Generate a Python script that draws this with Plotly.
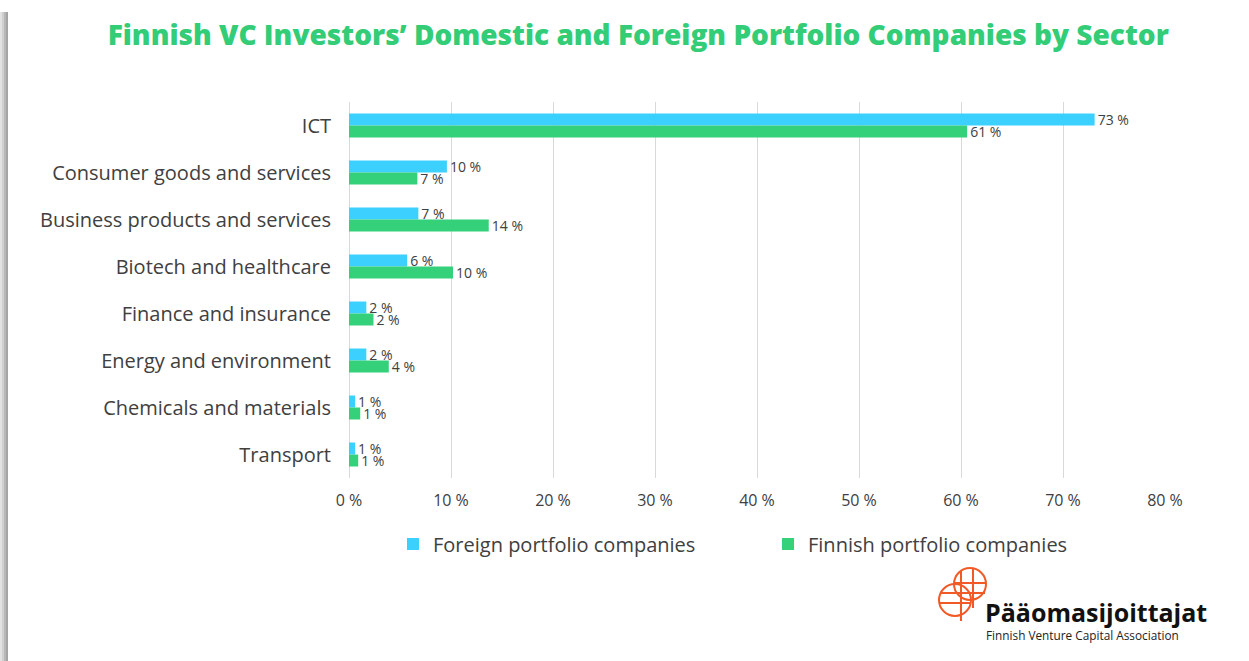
import plotly.graph_objects as go

categories = ["ICT", "Consumer goods and services", "Business products and services",
              "Biotech and healthcare", "Finance and insurance", "Energy and environment",
              "Chemicals and materials", "Transport"]
foreign = [73.1, 9.6, 6.8, 5.7, 1.7, 1.7, 0.6, 0.6]
finnish = [60.6, 6.7, 13.7, 10.2, 2.4, 3.9, 1.1, 0.9]
series_names = ["Foreign portfolio companies", "Finnish portfolio companies"]
x_ticks = [0, 10, 20, 30, 40, 50, 60, 70, 80]
x_tick_labels = [f"{v} %" for v in x_ticks]

W, H = 1249, 661
ML, MR, MT, MB = 349, 84, 102, 183
PW, PH = W - ML - MR, H - MT - MB

def px(x):
    return (x - ML) / PW

def py(y):
    return (H - MB - y) / PH

CYAN = "#3CD0FF"
GREEN = "#35D07A"
TXT = "#404040"
FONT = "Open Sans"

fig = go.Figure()
for name, vals, col in [(series_names[0], foreign, CYAN), (series_names[1], finnish, GREEN)]:
    fig.add_trace(go.Bar(
        y=categories, x=vals, name=name, orientation="h",
        marker=dict(color=col, line=dict(width=0)),
        text=[f"{round(v)} %" for v in vals],
        textposition="outside", constraintext="none", cliponaxis=False,
        textfont=dict(family=FONT, size=14, color=TXT),
        hoverinfo="x+y",
    ))

fig.update_layout(
    width=W, height=H,
    margin=dict(l=ML, r=MR, t=MT, b=MB),
    paper_bgcolor="white", plot_bgcolor="white",
    barmode="group", bargap=0.49, bargroupgap=0,
    font=dict(family=FONT, color=TXT),
    title=dict(text="Finnish VC Investors’ Domestic and Foreign Portfolio Companies by Sector",
               x=0.511, xanchor="center", y=1 - 35 / H, yanchor="middle",
               font=dict(family=FONT, size=28, color="#33CC77", weight=800)),
    xaxis=dict(range=[0, 80], tickmode="array", tickvals=x_ticks, ticktext=x_tick_labels,
               showgrid=True, gridcolor="#D9D9D9", gridwidth=1,
               zeroline=True, zerolinecolor="#D9D9D9", zerolinewidth=1,
               showline=False, ticks="", tickfont=dict(family=FONT, size=16, color=TXT),
               ticklabelstandoff=11, fixedrange=True),
    yaxis=dict(categoryorder="array", categoryarray=categories, autorange="reversed",
               showgrid=False, zeroline=False, showline=False, ticks="",
               tickfont=dict(family=FONT, size=20, color=TXT), ticklabelstandoff=17,
               fixedrange=True),
    legend=dict(orientation="h", x=px(393), xanchor="left", y=py(544), yanchor="middle",
                font=dict(family=FONT, size=20, color=TXT),
                entrywidth=330, entrywidthmode="pixels", itemwidth=30,
                traceorder="normal", bgcolor="rgba(0,0,0,0)"),
    showlegend=True,
)

shapes = []
# left shadow of the slide
for x0, x1, c in [(0, 2, "#E2E2E2"), (2, 4, "#CFCFCF"), (4, 6, "#B8B8B8"), (6, 8, "#A4A4A4")]:
    shapes.append(dict(type="rect", xref="paper", yref="paper",
                       x0=px(x0), x1=px(x1), y0=py(H), y1=py(12),
                       fillcolor=c, line=dict(width=0), layer="above"))
# logo icon
OR = "#F15A24"
lw = 2
for cx, cy, r in [(970, 584, 16), (955, 600, 16)]:
    shapes.append(dict(type="circle", xref="paper", yref="paper",
                       x0=px(cx - r), x1=px(cx + r), y0=py(cy + r), y1=py(cy - r),
                       line=dict(color=OR, width=lw), fillcolor="rgba(0,0,0,0)"))
for x, y0, y1 in [(961, 571, 621), (973, 568, 608)]:
    shapes.append(dict(type="line", xref="paper", yref="paper",
                       x0=px(x), x1=px(x), y0=py(y1), y1=py(y0), line=dict(color=OR, width=lw)))
for y, x0, x1 in [(583, 954, 986), (593, 940, 985), (603, 939, 971)]:
    shapes.append(dict(type="line", xref="paper", yref="paper",
                       x0=px(x0), x1=px(x1), y0=py(y), y1=py(y), line=dict(color=OR, width=lw)))
fig.update_layout(shapes=shapes)

fig.add_annotation(text="<b>Pääomasijoittajat</b>", xref="paper", yref="paper",
                   x=px(983), y=py(612), xanchor="left", yanchor="middle", showarrow=False,
                   font=dict(family=FONT, size=25, color="#111111"))
fig.add_annotation(text="Finnish Venture Capital Association", xref="paper", yref="paper",
                   x=px(984), y=py(635), xanchor="left", yanchor="middle", showarrow=False,
                   font=dict(family=FONT, size=11.8, color="#222222"))

fig.write_html("out.html", config={"displayModeBar": False},
               post_script="document.body.style.margin='0';")
